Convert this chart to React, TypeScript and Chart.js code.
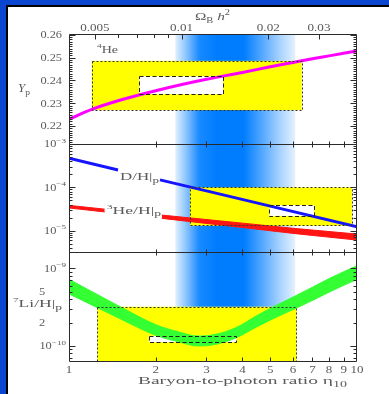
import { useEffect, useRef } from 'react';
import { Chart, registerables } from 'chart.js';

Chart.register(...registerables);

// Upper axis: η10 = ETA_PER_OMEGA × Ω_B h²
const ETA_PER_OMEGA = 246;

// Axis ranges
const etaRange = [1, 10];
const ypRange = [0.2121, 0.2604];
const dhRange = [3.24e-6, 1e-3];
const liRange = [6.4e-11, 1.62e-9];

// 4He mass fraction Yp vs η10
const heEta = [1, 1.2, 1.5, 2, 3, 4, 5, 6, 7, 8, 10];
const heYp = [0.223, 0.2273, 0.2313, 0.2355, 0.2405, 0.2435, 0.246, 0.2479, 0.2495, 0.2508, 0.253];

// D/H, broken where its label sits
const dhEtaLeft = [1, 1.48];
const dhLeft = [4.7e-4, 2.52e-4];
const dhEtaRight = [2.07, 3, 5, 10];
const dhRight = [1.49e-4, 8.3e-5, 3.7e-5, 1.24e-5];

// 3He/H band (upper / lower edge), broken where its label sits
const he3EtaLeft = [1, 1.33];
const he3HighLeft = [3.85e-5, 3.15e-5];
const he3LowLeft = [3.35e-5, 2.72e-5];
const he3EtaRight = [2.1, 4, 6, 10];
const he3HighRight = [2.3e-5, 1.5e-5, 1.14e-5, 8.4e-6];
const he3LowRight = [1.93e-5, 1.19e-5, 8.7e-6, 6.1e-6];

// 7Li/H band (upper / lower edge)
const liEta = [1, 1.25, 1.5, 2, 2.4, 2.8, 3.2, 3.8, 4.5, 5.2, 6.17, 7, 8, 10];
const liHigh = [7.2e-10, 4.62e-10, 3.22e-10, 1.88e-10, 1.52e-10, 1.34e-10, 1.4e-10, 1.72e-10, 2.47e-10, 3.28e-10, 4.49e-10, 5.69e-10, 7.36e-10, 1.08e-9];
const liLow = [4.68e-10, 3.13e-10, 2.25e-10, 1.37e-10, 1.13e-10, 1.0e-10, 1.04e-10, 1.27e-10, 1.77e-10, 2.31e-10, 3.08e-10, 3.85e-10, 4.93e-10, 7.2e-10];

// Allowed ranges (yellow) and observed values (white, dashed)
const heBoxEta = [1.2, 6.43];
const heBoxYp = [0.227, 0.2486];
const heObsEta = [1.755, 3.43];
const heObsYp = [0.234, 0.2418];
const dhBoxEta = [2.63, 9.6];
const dhBoxVal = [1.3e-5, 1.0e-4];
const dhObsEta = [4.96, 7.1];
const dhObsVal = [2.2e-5, 3.9e-5];
const liBoxEta = [1.254, 6.17];
const liBoxVal = [liRange[0], 3.2e-10];
const liObsEta = [1.9, 3.82];
const liObsVal = [1.12e-10, 1.35e-10];

// Concordance band in η10
const bandEta = [2.34, 6.1];

// Tick values
const etaTicks = [1, 2, 3, 4, 5, 6, 7, 8, 9, 10];
const omegaTicks = [0.005, 0.01, 0.02, 0.03];
const omegaMinorTicks = [0.006, 0.007, 0.008, 0.009];
const ypTicks = [0.22, 0.23, 0.24, 0.25, 0.26];
const dhTickExps = [-3, -4, -5];
const liTickValues = [1e-9, 5e-10, 2e-10, 1e-10];
const liTickLabels = ['10^−9', '5', '2', '10^−10'];

const FONT = '"Liberation Serif", "Times New Roman", serif';
const COLORS = {
  outer: '#0a46d0',
  frame: '#2a2a2a',
  text: '#5a5a5a',
  band: '0,125,255',
  yellow: '#ffff00',
  he: '#ff00ff',
  dh: '#1414ff',
  he3: '#ff1414',
  li: '#33ff33',
};

type Part = { t: string; size: number; dy?: number; italic?: boolean };

function drawParts(
  ctx: CanvasRenderingContext2D,
  parts: Part[],
  x: number,
  y: number,
  align: 'left' | 'right' | 'center',
  opts: { sx?: number; width?: number }
) {
  const font = (p: Part) => `${p.italic ? 'italic ' : ''}${p.size}px ${FONT}`;
  let w = 0;
  const widths = parts.map((p) => {
    ctx.font = font(p);
    const m = ctx.measureText(p.t).width;
    w += m;
    return m;
  });
  const sx = opts.width ? opts.width / w : opts.sx ?? 1;
  const total = w * sx;
  const start = align === 'left' ? x : align === 'right' ? x - total : x - total / 2;
  ctx.save();
  ctx.translate(start, y);
  ctx.scale(sx, 1);
  ctx.fillStyle = COLORS.text;
  ctx.textAlign = 'left';
  ctx.textBaseline = 'alphabetic';
  let cx = 0;
  parts.forEach((p, i) => {
    ctx.font = font(p);
    ctx.fillText(p.t, cx, p.dy ?? 0);
    cx += widths[i];
  });
  ctx.restore();
}

const sup = (t: string, size = 7): Part => ({ t, size, dy: -4.6 });
const sub = (t: string, size = 7.5): Part => ({ t, size, dy: 2.8 });

const pts = (xs: number[], ys: number[]) => xs.map((x, i) => ({ x, y: ys[i] }));

type Box = { axis: string; eta: number[]; val: number[]; obs: boolean };
const boxes: Box[] = [
  { axis: 'yHe', eta: heBoxEta, val: heBoxYp, obs: false },
  { axis: 'yHe', eta: heObsEta, val: heObsYp, obs: true },
  { axis: 'yDH', eta: dhBoxEta, val: dhBoxVal, obs: false },
  { axis: 'yDH', eta: dhObsEta, val: dhObsVal, obs: true },
  { axis: 'yLi', eta: liBoxEta, val: liBoxVal, obs: false },
  { axis: 'yLi', eta: liObsEta, val: liObsVal, obs: true },
];

function boxRect(chart: any, b: Box) {
  const xs = chart.scales.x;
  const ys = chart.scales[b.axis];
  const x0 = xs.getPixelForValue(b.eta[0]);
  const x1 = xs.getPixelForValue(b.eta[1]);
  const y0 = Math.max(ys.getPixelForValue(b.val[1]), ys.top);
  const y1 = Math.min(ys.getPixelForValue(b.val[0]), ys.bottom);
  return [x0, y0, x1 - x0, y1 - y0];
}

const crisp = (v: number) => Math.round(v) + 0.5;

const panelsPlugin = {
  id: 'bbnPanels',
  beforeDatasetsDraw(chart: any) {
    const { ctx, chartArea: ca, scales } = chart;
    const xs = scales.x;
    const b0 = xs.getPixelForValue(bandEta[0]);
    const b1 = xs.getPixelForValue(bandEta[1]);
    const g = ctx.createLinearGradient(b0, 0, b1, 0);
    const stops: [number, number][] = [
      [0, 0.12], [0.09, 0.45], [0.2, 0.9], [0.34, 1], [0.57, 1], [0.71, 0.7], [0.87, 0.35], [1, 0.1],
    ];
    stops.forEach(([p, a]) => g.addColorStop(p, `rgba(${COLORS.band},${a})`));
    ctx.save();
    ctx.fillStyle = g;
    ctx.fillRect(b0, ca.top, b1 - b0, ca.bottom - ca.top);
    boxes.forEach((b) => {
      const [x, y, w, h] = boxRect(chart, b);
      ctx.fillStyle = b.obs ? '#ffffff' : COLORS.yellow;
      ctx.fillRect(x, y, w, h);
    });
    ctx.restore();
  },
  afterDatasetsDraw(chart: any) {
    const { ctx } = chart;
    ctx.save();
    ctx.lineWidth = 1;
    boxes.forEach((b) => {
      const [x, y, w, h] = boxRect(chart, b);
      ctx.strokeStyle = b.obs ? '#222' : '#333';
      ctx.setLineDash(b.obs ? [4, 2.5] : [2, 2]);
      ctx.strokeRect(crisp(x), crisp(y), Math.round(w), Math.round(h));
    });
    ctx.restore();
  },
  afterDraw(chart: any) {
    const { ctx, chartArea: ca, scales } = chart;
    const xs = scales.x;
    const xt = scales.xTop;
    const yHe = scales.yHe;
    const yDH = scales.yDH;
    const yLi = scales.yLi;
    const L = crisp(ca.left);
    const R = crisp(ca.right - 1);
    const T = crisp(ca.top);
    const B = crisp(ca.bottom);
    const s1 = crisp(yHe.bottom);
    const s2 = crisp(yDH.bottom);

    ctx.save();
    ctx.strokeStyle = COLORS.frame;
    ctx.lineWidth = 1;
    ctx.beginPath();
    // frame and panel separators
    ctx.moveTo(L, T); ctx.lineTo(L, B);
    ctx.moveTo(R, T); ctx.lineTo(R, B);
    [T, s1, s2, B].forEach((y) => { ctx.moveTo(L, y); ctx.lineTo(R, y); });

    // y ticks on both sides
    const yTick = (scale: any, v: number, len: number) => {
      if (v < scale.min - 1e-12 * Math.abs(v) || v > scale.max) return;
      const y = crisp(scale.getPixelForValue(v));
      ctx.moveTo(L, y); ctx.lineTo(L + len, y);
      ctx.moveTo(R, y); ctx.lineTo(R - len, y);
    };
    for (let k = 213; k <= 260; k++) yTick(yHe, k / 1000, k % 10 === 0 ? 6 : 3);
    for (let e = -6; e <= -3; e++) for (let m = 1; m <= 9; m++) yTick(yDH, m * 10 ** e, m === 1 ? 6 : 3);
    for (let e = -11; e <= -9; e++) for (let m = 1; m <= 9; m++) yTick(yLi, m * 10 ** e, m === 1 ? 6 : 3);

    // η ticks on separators and bottom edge
    etaTicks.slice(1, -1).forEach((v) => {
      const x = crisp(xs.getPixelForValue(v));
      [s1, s2].forEach((y) => { ctx.moveTo(x, y - 3); ctx.lineTo(x, y + 3); });
      ctx.moveTo(x, B); ctx.lineTo(x, B - 4);
    });
    // Ω_B h² ticks on top edge
    omegaTicks.forEach((v) => { const x = crisp(xt.getPixelForValue(v)); ctx.moveTo(x, T); ctx.lineTo(x, T + 5); });
    omegaMinorTicks.forEach((v) => { const x = crisp(xt.getPixelForValue(v)); ctx.moveTo(x, T); ctx.lineTo(x, T + 3.5); });
    ctx.stroke();
    ctx.restore();

    // tick labels
    const TS = 9.5;
    const tsx = 1.3;
    ypTicks.forEach((v) => {
      drawParts(ctx, [{ t: v.toFixed(2), size: TS }], 62, yHe.getPixelForValue(v) + 3.3, 'right', { sx: tsx });
    });
    dhTickExps.forEach((e) => {
      drawParts(ctx, [{ t: '10', size: TS }, sup('−' + Math.abs(e))], 66, yDH.getPixelForValue(10 ** e) + 3.3, 'right', { sx: tsx });
    });
    liTickValues.forEach((v, i) => {
      const lab = liTickLabels[i];
      const y = yLi.getPixelForValue(v) + 3.3;
      if (lab.includes('^')) {
        const [base, ex] = lab.split('^');
        drawParts(ctx, [{ t: base, size: TS }, sup(ex)], 66, y, 'right', { sx: tsx });
      } else {
        drawParts(ctx, [{ t: lab, size: TS }], 42, y, 'center', { sx: tsx });
      }
    });
    etaTicks.forEach((v) => {
      drawParts(ctx, [{ t: String(v), size: 10 }], xs.getPixelForValue(v), 373, 'center', { sx: tsx });
    });
    omegaTicks.forEach((v) => {
      drawParts(ctx, [{ t: String(v), size: TS }], xt.getPixelForValue(v), 31, 'center', { sx: 1.38 });
    });

    // axis titles and curve labels
    drawParts(ctx, [{ t: 'Baryon-to-photon ratio η', size: 10.8 }, sub('10', 7.8)], 138, 384, 'left', { width: 209 });
    drawParts(ctx, [{ t: 'Ω', size: 11 }, sub('B'), { t: ' ', size: 11 }, { t: 'h', size: 11, italic: true }, sup('2', 7.5)], 195, 20, 'left', { width: 35 });
    drawParts(ctx, [{ t: 'Y', size: 11.5, italic: true }, sub('p', 8.5)], 18, 92, 'left', { width: 12 });
    drawParts(ctx, [sup('4'), { t: 'He', size: 10.5 }], 97, 52.5, 'left', { width: 21 });
    drawParts(ctx, [{ t: 'D/H|', size: 11 }, sub('p', 8.5)], 120, 180, 'left', { width: 39 });
    drawParts(ctx, [sup('3'), { t: 'He/H|', size: 11 }, sub('p', 8.5)], 107, 213.5, 'left', { width: 54 });
    drawParts(ctx, [sup('7'), { t: 'Li/H|', size: 11 }, sub('p', 8.5)], 13, 307, 'left', { width: 49 });
  },
};

const hidden = {
  ticks: { display: false },
  grid: { display: false },
  border: { display: false },
};

export default function App() {
  const ref = useRef<HTMLCanvasElement>(null);

  useEffect(() => {
    const line = { pointRadius: 0, borderCapStyle: 'butt', fill: false };
    const chart = new Chart(ref.current as HTMLCanvasElement, {
      type: 'line',
      data: {
        datasets: [
          { ...line, data: pts(heEta, heYp), yAxisID: 'yHe', borderColor: COLORS.he, borderWidth: 3, cubicInterpolationMode: 'monotone' },
          { ...line, data: pts(dhEtaLeft, dhLeft), yAxisID: 'yDH', borderColor: COLORS.dh, borderWidth: 3 },
          { ...line, data: pts(dhEtaRight, dhRight), yAxisID: 'yDH', borderColor: COLORS.dh, borderWidth: 3 },
          { ...line, data: pts(he3EtaLeft, he3HighLeft), yAxisID: 'yDH', borderColor: COLORS.he3, borderWidth: 1 },
          { ...line, data: pts(he3EtaLeft, he3LowLeft), yAxisID: 'yDH', borderColor: COLORS.he3, borderWidth: 1, fill: '-1', backgroundColor: COLORS.he3 },
          { ...line, data: pts(he3EtaRight, he3HighRight), yAxisID: 'yDH', borderColor: COLORS.he3, borderWidth: 1 },
          { ...line, data: pts(he3EtaRight, he3LowRight), yAxisID: 'yDH', borderColor: COLORS.he3, borderWidth: 1, fill: '-1', backgroundColor: COLORS.he3 },
          { ...line, data: pts(liEta, liHigh), yAxisID: 'yLi', borderColor: COLORS.li, borderWidth: 1, cubicInterpolationMode: 'monotone' },
          { ...line, data: pts(liEta, liLow), yAxisID: 'yLi', borderColor: COLORS.li, borderWidth: 1, cubicInterpolationMode: 'monotone', fill: '-1', backgroundColor: COLORS.li },
        ],
      } as any,
      options: {
        responsive: false,
        animation: false,
        devicePixelRatio: 1,
        events: [],
        layout: { padding: { left: 0, right: 32, top: 0, bottom: 0 } },
        plugins: { legend: { display: false }, tooltip: { enabled: false } },
        scales: {
          x: { type: 'logarithmic', position: 'bottom', min: etaRange[0], max: etaRange[1], ...hidden, afterFit: (s: any) => { s.height = 33; } },
          xTop: { type: 'logarithmic', position: 'top', min: etaRange[0] / ETA_PER_OMEGA, max: etaRange[1] / ETA_PER_OMEGA, ...hidden, afterFit: (s: any) => { s.height = 34; } },
          yHe: { type: 'linear', position: 'left', stack: 'panels', stackWeight: 110, weight: 3, min: ypRange[0], max: ypRange[1], ...hidden, afterFit: (s: any) => { s.width = 69; } },
          yDH: { type: 'logarithmic', position: 'left', stack: 'panels', stackWeight: 108, weight: 2, min: dhRange[0], max: dhRange[1], ...hidden, afterFit: (s: any) => { s.width = 69; } },
          yLi: { type: 'logarithmic', position: 'left', stack: 'panels', stackWeight: 109, weight: 1, min: liRange[0], max: liRange[1], ...hidden, afterFit: (s: any) => { s.width = 69; } },
        },
      } as any,
      plugins: [panelsPlugin],
    });
    return () => chart.destroy();
  }, []);

  return (
    <div style={{ position: 'fixed', left: 0, top: 0, width: 389, height: 394, background: COLORS.outer, overflow: 'hidden' }}>
      <div style={{ position: 'absolute', left: 6, top: 5, right: 0, bottom: 0, background: '#ffffff', borderLeft: '2px solid #000', borderTop: '2px solid #000' }} />
      <canvas ref={ref} width={389} height={394} style={{ position: 'absolute', left: 0, top: 0, width: 389, height: 394 }} />
    </div>
  );
}
